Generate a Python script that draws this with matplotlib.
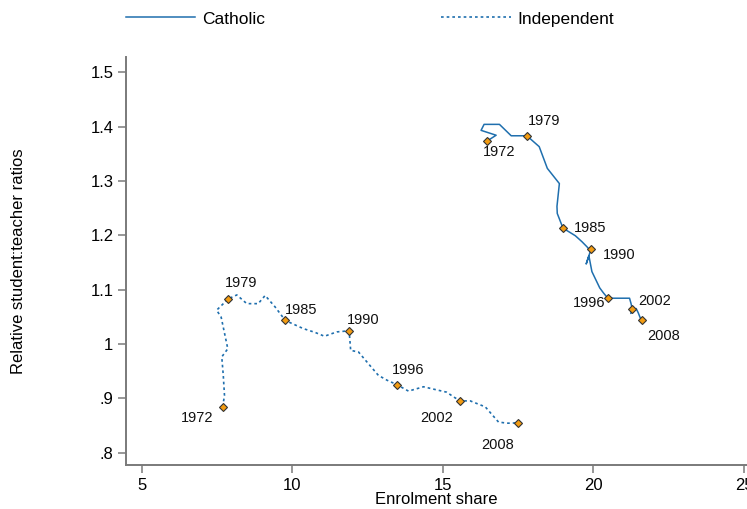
"""Trajectoires enrolment share / ratio élèves:enseignant relatif, Catholic vs Independent."""
import matplotlib
matplotlib.use("Agg")
import matplotlib.pyplot as plt
from matplotlib.lines import Line2D

plt.rcParams["font.family"] = ["Liberation Sans", "DejaVu Sans"]

years = list(range(1972, 2009))
labelled_years = [1972, 1979, 1985, 1990, 1996, 2002, 2008]

# Catholic (trait plein)
cath_share = [16.46, 16.77, 16.27, 16.37, 16.88, 17.27, 17.53, 17.79, 18.20, 18.47,
              18.87, 18.79, 18.80, 18.99, 19.40, 19.62, 19.78, 19.86, 19.92, 19.76,
              19.85, 19.95, 20.21, 20.33, 20.48, 20.64, 20.84, 21.04, 21.20, 21.25,
              21.29, 21.24, 21.42, 21.49, 21.54, 21.57, 21.60]
cath_ratio = [1.373, 1.384, 1.393, 1.404, 1.404, 1.383, 1.383, 1.383, 1.363, 1.323,
              1.295, 1.253, 1.240, 1.213, 1.199, 1.188, 1.179, 1.174, 1.174, 1.147,
              1.162, 1.133, 1.103, 1.094, 1.084, 1.084, 1.084, 1.084, 1.084, 1.074,
              1.064, 1.056, 1.065, 1.057, 1.050, 1.046, 1.043]

# Independent (pointillé)
ind_share = [7.69, 7.75, 7.71, 7.66, 7.86, 7.64, 7.49, 7.88, 8.16, 8.49,
             8.87, 9.10, 9.43, 9.77, 10.37, 10.76, 11.07, 11.48, 11.89, 11.94,
             12.20, 12.52, 12.86, 13.15, 13.47, 13.86, 14.36, 14.74, 15.13, 15.34,
             15.57, 15.91, 16.41, 16.85, 17.13, 17.30, 17.49]
ind_ratio = [0.884, 0.905, 0.942, 0.976, 0.991, 1.049, 1.062, 1.083, 1.090, 1.074,
             1.074, 1.089, 1.068, 1.043, 1.028, 1.021, 1.014, 1.022, 1.024, 0.988,
             0.985, 0.964, 0.942, 0.933, 0.925, 0.913, 0.921, 0.916, 0.911, 0.903,
             0.895, 0.895, 0.884, 0.856, 0.854, 0.854, 0.855]

x_ticks = [5, 10, 15, 20, 25]
y_ticks = [0.8, 0.9, 1.0, 1.1, 1.2, 1.3, 1.4, 1.5]
y_tick_labels = [".8", ".9", "1", "1.1", "1.2", "1.3", "1.4", "1.5"]

LINE_C = "#1f6fae"
MARK_FC = "#f39c12"
AXIS_C = "#7a7a7a"

# décalage (px) des étiquettes d'année par rapport au marqueur
cath_offsets = [(12, -11), (17, 15), (27, 0), (28, -6), (-19, -5), (22, 8), (22, -16)]
ind_offsets = [(-26, -11), (13, 16), (16, 10), (14, 11), (11, 15), (-23, -17), (-20, -22)]

fig = plt.figure(figsize=(7.47, 5.09), dpi=100)
ax = fig.add_axes([126 / 747, 44 / 509, 621 / 747, 408 / 509])

ax.plot(cath_share, cath_ratio, color=LINE_C, lw=1.1, ls="-", zorder=2)
ax.plot(ind_share, ind_ratio, color=LINE_C, lw=1.2, ls=(0, (1.6, 1.8)), zorder=2)

for share, ratio, offsets in [(cath_share, cath_ratio, cath_offsets),
                              (ind_share, ind_ratio, ind_offsets)]:
    for yr, (dx, dy) in zip(labelled_years, offsets):
        i = years.index(yr)
        ax.plot(share[i], ratio[i], marker="D", ms=4.0, mfc=MARK_FC, mec="#333333",
                mew=0.8, ls="none", zorder=3)
        ax.annotate(str(yr), (share[i], ratio[i]), xytext=(dx, dy),
                    textcoords="offset pixels", ha="center", va="center",
                    fontsize=10.5, color="#111111")

ax.set_xlim(4.48, 25.1)
ax.set_ylim(0.777, 1.528)
ax.set_xticks(x_ticks)
ax.set_yticks(y_ticks)
ax.set_yticklabels(y_tick_labels)
for s in ["top", "right"]:
    ax.spines[s].set_visible(False)
for s in ["left", "bottom"]:
    ax.spines[s].set_color(AXIS_C)
    ax.spines[s].set_linewidth(1.4)
ax.tick_params(axis="both", direction="out", length=6, width=1.1, color=AXIS_C,
               labelsize=12, pad=3)
ax.set_xlabel("Enrolment share", fontsize=12, labelpad=0)
ax.set_ylabel("Relative student:teacher ratios", fontsize=12, labelpad=46)

handles = [Line2D([], [], color=LINE_C, lw=1.1, ls="-"),
           Line2D([], [], color=LINE_C, lw=1.2, ls=(0, (1.6, 1.8)))]
fig.legend(handles, ["Catholic", "Independent"], ncol=2, frameon=False,
           loc="center left", bbox_to_anchor=(110 / 747, 1 - 19 / 509),
           fontsize=12.5, handlelength=4.0, handletextpad=0.4, columnspacing=10.15)

fig.savefig("out.png", dpi=100)
